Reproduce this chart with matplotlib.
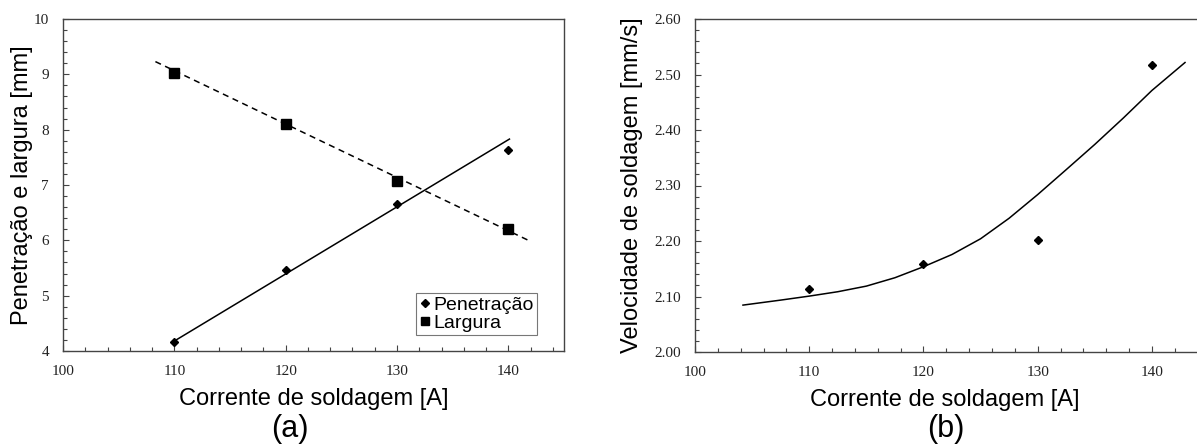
import matplotlib
matplotlib.use("Agg")
import matplotlib.pyplot as plt
from matplotlib.ticker import MultipleLocator, FormatStrFormatter

# (a) penetration / width vs current
corrente = [110, 120, 130, 140]
penetracao = [4.17, 5.47, 6.66, 7.63]
largura = [9.02, 8.10, 7.07, 6.20]
# trend lines (end points)
pen_fit_x = [110, 140.1]
pen_fit_y = [4.18, 7.83]
larg_fit_x = [108.3, 141.8]
larg_fit_y = [9.23, 6.00]

# (b) welding speed vs current
velocidade = [2.113, 2.159, 2.201, 2.517]
vel_fit_x = [104.2, 107.5, 110, 112.5, 115, 117.5, 120, 122.5, 125, 127.5,
             130, 132.5, 135, 137.5, 140, 142.9]
vel_fit_y = [2.0845, 2.0935, 2.1007, 2.1086, 2.1187, 2.1338, 2.1536, 2.1757,
             2.2040, 2.2410, 2.2836, 2.3286, 2.3740, 2.4216, 2.4712, 2.5216]

sans = "Liberation Sans"
serif = "Liberation Serif"
lab_size = 17
tick_size = 11

fig = plt.figure(figsize=(11.97, 4.45), dpi=100)
ax1 = fig.add_axes([63 / 1197, 94 / 445, 501 / 1197, 332 / 445])
ax2 = fig.add_axes([695 / 1197, 93 / 445, 514 / 1197, 333 / 445])


def style(ax):
    for s in ax.spines.values():
        s.set_color("#444444")
        s.set_linewidth(1.0)
    ax.tick_params(which="both", direction="in", top=False, right=False,
                   colors="#444444", labelcolor="#222222", labelsize=tick_size,
                   pad=10)
    ax.tick_params(which="major", length=4, width=0.8)
    ax.tick_params(which="minor", length=3, width=0.8)
    for lab in ax.get_xticklabels() + ax.get_yticklabels():
        lab.set_fontfamily(serif)
    ax.xaxis.set_major_locator(MultipleLocator(10))
    ax.xaxis.set_minor_locator(MultipleLocator(2))


# panel (a)
ax1.plot(pen_fit_x, pen_fit_y, color="black", lw=1.1)
ax1.plot(larg_fit_x, larg_fit_y, color="black", lw=1.1, dashes=(4, 3))
ax1.plot(corrente, penetracao, "D", color="black", ms=4.5, ls="none",
         label="Penetração")
ax1.plot(corrente, largura, "s", color="black", ms=7, ls="none",
         label="Largura")
ax1.set_xlim(100, 145)
ax1.set_ylim(4, 10)
ax1.yaxis.set_major_locator(MultipleLocator(1))
ax1.yaxis.set_minor_locator(MultipleLocator(0.2))
style(ax1)
ax1.set_xlabel("Corrente de soldagem [A]", fontsize=lab_size, family=sans)
ax1.set_ylabel("Penetração e largura [mm]", fontsize=lab_size, family=sans)
ax1.xaxis.set_label_coords(0.5, -0.11)
ax1.yaxis.set_label_coords(-0.06, 0.5)
leg = ax1.legend(loc="lower right", bbox_to_anchor=(0.946, 0.048),
                 prop={"family": sans, "size": 14}, frameon=True,
                 fancybox=False, borderpad=0.15, handlelength=0.6,
                 handletextpad=0.15, labelspacing=0.05, borderaxespad=0,
                 markerscale=0.85)
leg.get_frame().set_edgecolor("#555555")
leg.get_frame().set_linewidth(0.8)

# panel (b)
ax2.plot(vel_fit_x, vel_fit_y, color="black", lw=1.1)
ax2.plot(corrente, velocidade, "D", color="black", ms=4.5, ls="none")
ax2.set_xlim(100, 145)
ax2.set_ylim(2.0, 2.6)
ax2.yaxis.set_major_locator(MultipleLocator(0.1))
ax2.yaxis.set_minor_locator(MultipleLocator(0.02))
ax2.yaxis.set_major_formatter(FormatStrFormatter("%.2f"))
style(ax2)
ax2.set_xlabel("Corrente de soldagem [A]", fontsize=lab_size, family=sans)
ax2.set_ylabel("Velocidade de soldagem [mm/s]", fontsize=lab_size, family=sans)
ax2.xaxis.set_label_coords(250 / 514, -0.11)
ax2.yaxis.set_label_coords(-0.102, 0.5)

fig.text(290 / 1197, 0.035, "(a)", fontsize=22, family=sans,
         ha="center", va="center")
fig.text(946 / 1197, 0.035, "(b)", fontsize=22, family=sans,
         ha="center", va="center")

fig.savefig("out.png", dpi=100)
